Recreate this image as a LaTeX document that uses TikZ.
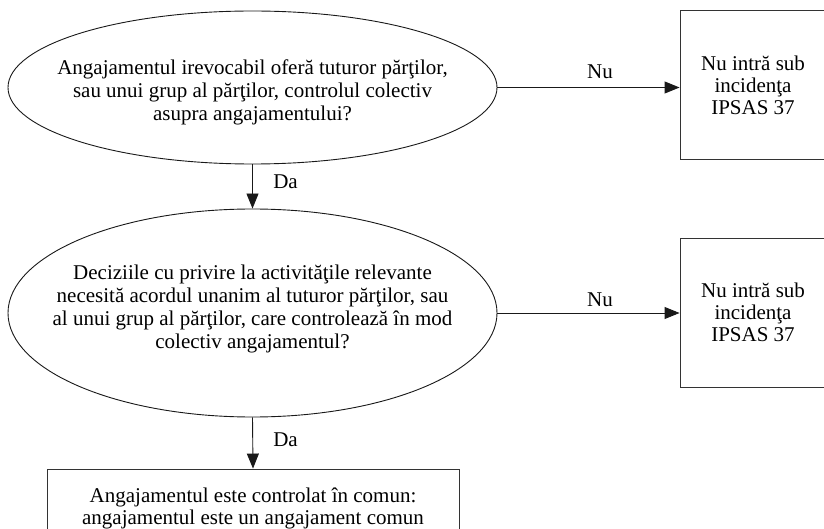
\documentclass[tikz,border=0pt]{standalone}
\usepackage{fontspec}
\setmainfont{Liberation Serif}
\usetikzlibrary{shapes.geometric,arrows.meta}

\tikzset{
  txt/.style={font=\fontsize{21}{23}\selectfont, align=center, inner sep=0pt},
  question/.style={ellipse, draw=black!90, line width=0.9pt, inner sep=0pt},
  outcome/.style={rectangle, draw=black!80, line width=0.9pt, inner sep=0pt,
                  font=\fontsize{21}{22}\selectfont, align=center},
  flow/.style={draw=black!90, line width=0.9pt, -{Triangle[length=15pt,width=12pt]}},
  lbl/.style={font=\fontsize{21}{22}\selectfont, inner sep=0pt}
}

\begin{document}
\begin{tikzpicture}[x=1pt,y=-1pt]
  \useasboundingbox (0,0) rectangle (824,529);

  % first question
  \node[question, minimum width=489pt, minimum height=153pt] (q1) at (252.5,87.5) {};
  \node[txt] (q1t) at (252.5,92) {Angajamentul irevocabil oferă tuturor părţilor,\\
    sau unui grup al părţilor, controlul colectiv\\ asupra angajamentului?};

  % second question
  \node[question, minimum width=489pt, minimum height=208pt] (q2) at (252.5,313) {};
  \node[txt] (q2t) at (252.5,309) {Deciziile cu privire la activităţile relevante\\
    necesită acordul unanim al tuturor părţilor, sau\\
    al unui grup al părţilor, care controlează în mod\\ colectiv angajamentul?};

  % outcomes on the right
  \node[outcome, minimum width=146pt, minimum height=149pt] (n1) at (753,85)
    {Nu intră sub\\ incidenţa\\ IPSAS 37};
  \node[outcome, minimum width=146pt, minimum height=149pt] (n2) at (753,312.5)
    {Nu intră sub\\ incidenţa\\ IPSAS 37};

  % joint arrangement outcome
  \node[outcome, minimum width=412pt, minimum height=79pt] (ja) at (253,508.5)
    {Angajamentul este controlat în comun:\\ angajamentul este un angajament comun};

  % connectors
  \draw[flow] (q1.south) -- (q2.north);
  \draw[flow] (q2.south) -- (ja.north);
  \draw[flow] (q1.east) -- (q1.east -| n1.west);
  \draw[flow] (q2.east) -- (q2.east -| n2.west);

  % connector labels
  \node[lbl] (da1) at (285.5,182) {Da};
  \node[lbl] (da2) at (285.5,440) {Da};
  \node[lbl] (nu1) at (600,72) {Nu};
  \node[lbl] (nu2) at (600,300) {Nu};
\end{tikzpicture}
\end{document}
